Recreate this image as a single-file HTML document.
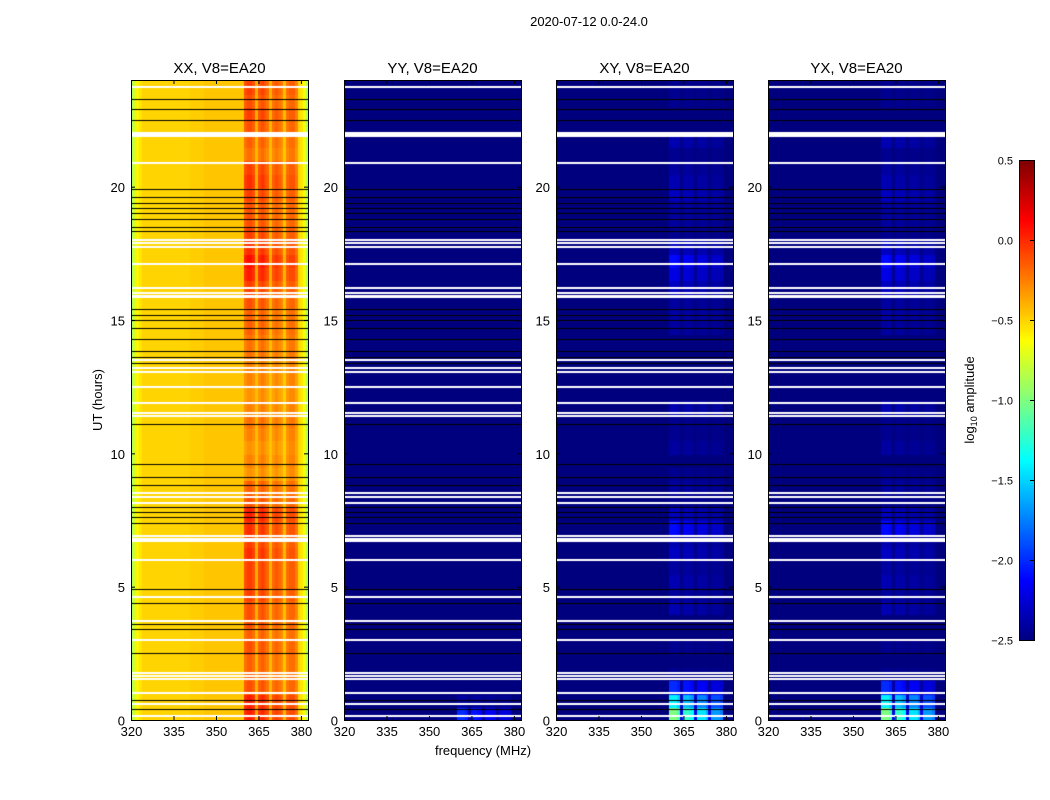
<!DOCTYPE html>
<html><head><meta charset="utf-8"><style>
body{margin:0;background:#fff;width:1050px;height:800px;overflow:hidden;font-family:"Liberation Sans",sans-serif}
canvas{position:absolute}
svg{position:absolute;left:0;top:0}
</style></head><body>
<canvas id="c0" width="177" height="640" style="left:131px;top:80px"></canvas>
<canvas id="c1" width="177" height="640" style="left:344px;top:80px"></canvas>
<canvas id="c2" width="177" height="640" style="left:556px;top:80px"></canvas>
<canvas id="c3" width="177" height="640" style="left:768px;top:80px"></canvas>
<canvas id="cb" width="15" height="480" style="left:1019px;top:160px"></canvas>
<svg id="s" width="1050" height="800" font-family="Liberation Sans, sans-serif">
<text x="589" y="26" font-size="13" text-anchor="middle">2020-07-12 0.0-24.0</text>
<text x="483" y="755" font-size="13" text-anchor="middle">frequency (MHz)</text>
<text transform="translate(102,400) rotate(-90)" font-size="13" text-anchor="middle">UT (hours)</text>
<text transform="translate(974,400) rotate(-90)" font-size="13" text-anchor="middle">log<tspan font-size="9" dy="3">10</tspan><tspan dy="-3"> amplitude</tspan></text>
</svg>
<script>
const panelTitles=["XX, V8=EA20","YY, V8=EA20","XY, V8=EA20","YX, V8=EA20"];
const panelX=[131,344,556,768];
const xTicks=[320,335,350,365,380];
const yTicks=[0,5,10,15,20];
const cbTicks=[0.5,0.0,-0.5,-1.0,-1.5,-2.0,-2.5];
// frequency column profile for XX (1 MHz channels from 320)
const xxCol=[-0.85,-0.75,-0.6,-0.55,-0.5,-0.5,-0.5,-0.5,-0.5,-0.5,-0.5,-0.5,-0.5,-0.5,-0.5,-0.5,-0.5,-0.5,-0.5,-0.5,-0.5,-0.48,-0.48,-0.48,-0.48,-0.48,-0.46,-0.46,-0.46,-0.46,-0.46,-0.46,-0.46,-0.46,-0.46,-0.46,-0.46,-0.46,-0.46,-0.46,-0.2,-0.15,-0.15,-0.2,-0.4,-0.2,-0.15,-0.2,-0.25,-0.42,-0.25,-0.2,-0.25,-0.3,-0.45,-0.25,-0.2,-0.2,-0.3,-0.5,-0.55,-0.65,-0.85];
// block weight per channel (RFI columns)
const blockCol=[0,0,0,0,0,0,0,0,0,0,0,0,0,0,0,0,0,0,0,0,0,0,0,0,0,0,0,0,0,0,0,0,0,0,0,0,0,0,0,0,1,1,1,0.9,0.2,0.85,0.85,0.8,0.75,0.2,0.7,0.7,0.7,0.6,0.2,0.55,0.55,0.55,0.5,0,0,0,0];
// half-hour bins, 0h..24h
const xxRow=[0.2,0.2,0.05,0,0,0.05,0,0.05,0.05,0.1,0.1,0.1,0.15,0.1,0.15,0.2,0.05,0,-0.15,-0.1,-0.15,-0.1,-0.05,-0.1,-0.15,-0.1,-0.1,-0.05,-0.05,0,0,0.05,0.1,0.2,0.25,0.15,0.1,0.05,0.05,0.1,0.15,0.1,-0.05,0,0.05,0.1,0.05,0.1];
const yyRow=[0.5,0.1,0,0,0,0,0,0,0,0,0,0,0,0,0,0,0,0,0,0,0,0,0,0,0,0,0,0,0,0,0,0,0,0,0,0,0,0,0,0,0,0,0,0,0,0,0,0];
const xyRow=[1.5,1.1,0.5,0.05,0,0.05,0,0,0.15,0.1,0.15,0.1,0.2,0.15,0.4,0.2,0.05,0.1,0.05,0,0.1,0.05,0.05,0.15,0,0,0,0,0,0.1,0.12,0.1,0.2,0.3,0.4,0.2,0.05,0.1,0.1,0.2,0.15,0.1,0.05,0.15,0,0,0.05,0.05];
const yxRow=[1.5,1.1,0.5,0.05,0,0.05,0,0,0.15,0.1,0.15,0.1,0.2,0.15,0.4,0.2,0.05,0.1,0.05,0,0.1,0.05,0.05,0.15,0,0,0,0,0,0.1,0.12,0.1,0.2,0.3,0.4,0.2,0.05,0.1,0.1,0.2,0.15,0.1,0.05,0.15,0,0,0.05,0.05];
// flagged rows (hours)
const whiteRows=[23.75,22.0,21.95,21.9,20.9,18.0,17.9,17.75,17.1,16.2,16.0,15.9,15.85,13.5,13.2,13.05,12.5,11.9,11.5,11.4,8.5,8.35,8.15,6.9,6.8,6.7,6.0,4.6,3.7,3.0,1.75,1.65,1.55,1.0,0.6,0.15];
const blackRows=[23.3,22.9,22.5,19.9,19.6,19.4,19.2,19.0,18.8,18.5,18.35,15.4,15.2,15.0,14.7,14.3,13.85,13.6,13.4,11.1,9.6,9.1,8.8,8.0,7.8,7.6,7.4,4.9,4.4,3.6,3.4,2.5,0.75,0.4];

const F0=320,F1=382.5,T0=0,T1=24,W=177,H=640;
const fx=f=>(f-F0)/(F1-F0)*W;
const ty=t=>H-(t-T0)/(T1-T0)*H;
function jet(v){let x=(v+2.5)/3;x=Math.max(0,Math.min(1,x));
 const r=Math.max(0,Math.min(1,1.5-Math.abs(4*x-3))),g=Math.max(0,Math.min(1,1.5-Math.abs(4*x-2))),b=Math.max(0,Math.min(1,1.5-Math.abs(4*x-1)));
 return `rgb(${r*255|0},${g*255|0},${b*255|0})`;}
function draw(id,valFn){const ctx=document.getElementById(id).getContext('2d');
 for(let t=0;t<48;t++)for(let f=0;f<xxCol.length;f++){
  ctx.fillStyle=jet(valFn(t,f));
  const x0=fx(F0+f),x1=fx(F0+f+1),y0=ty(t/2+0.5),y1=ty(t/2);
  ctx.fillRect(Math.floor(x0),Math.floor(y0),Math.ceil(x1-x0)+1,Math.ceil(y1-y0)+1);}
 ctx.fillStyle='#fff';whiteRows.forEach(h=>ctx.fillRect(0,Math.round(ty(h))-1,W,2));
 ctx.fillStyle='#000';blackRows.forEach(h=>ctx.fillRect(0,Math.round(ty(h)),W,1));}
draw('c0',(t,f)=>xxCol[f]+xxRow[t]*blockCol[f]);
draw('c1',(t,f)=>-2.5+yyRow[t]*blockCol[f]);
draw('c2',(t,f)=>-2.5+xyRow[t]*blockCol[f]);
draw('c3',(t,f)=>-2.5+yxRow[t]*blockCol[f]);
// colorbar
const cb=document.getElementById('cb').getContext('2d');
for(let i=0;i<480;i++){cb.fillStyle=jet(0.5-3*i/480);cb.fillRect(0,i,15,1);}
const S=document.getElementById('s'),NS='http://www.w3.org/2000/svg';
function mk(tag,attrs){const e=document.createElementNS(NS,tag);for(const k in attrs)e.setAttribute(k,attrs[k]);S.appendChild(e);return e;}
panelX.forEach((px,i)=>{
 const fr=mk('rect',{x:px+0.5,y:80.5,width:W,height:H,fill:'none',stroke:'#000'});
 
 
 const tt=mk('text',{x:px+W/2,y:73,'font-size':15,'text-anchor':'middle'});tt.textContent=panelTitles[i];
 
 
 xTicks.forEach(v=>{const x=px+fx(v)+0.5;
  mk('line',{x1:x,x2:x,y1:720,y2:716,stroke:'#000'});mk('line',{x1:x,x2:x,y1:80,y2:84,stroke:'#000'});
  const l=mk('text',{x:x,y:736,'font-size':13,'text-anchor':'middle'});l.textContent=v;
  
  });
 yTicks.forEach(v=>{const y=80+ty(v)+0.5;
  mk('line',{x1:px,x2:px+4,y1:y,y2:y,stroke:'#000'});mk('line',{x1:px+W,x2:px+W-4,y1:y,y2:y,stroke:'#000'});
  const l=mk('text',{x:px-6,y:y+5,'font-size':13,'text-anchor':'end'});l.textContent=v;
  
  });
});
mk('rect',{x:1019.5,y:160.5,width:15,height:480,fill:'none',stroke:'#000'});
cbTicks.forEach(v=>{const y=160+(0.5-v)/3*480+0.5;
 mk('line',{x1:1030,x2:1034,y1:y,y2:y,stroke:'#000'});
 const l=mk('text',{x:1013,y:y+4,'font-size':11,'text-anchor':'end'});l.textContent=(v<0?'\u2212':'')+Math.abs(v).toFixed(1);
 
 });
</script>
</body></html>
